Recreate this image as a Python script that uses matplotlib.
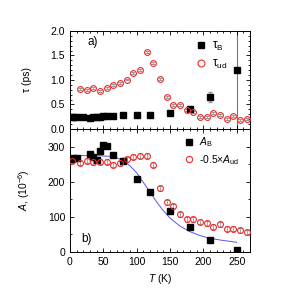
import matplotlib
matplotlib.use("Agg")
import matplotlib.pyplot as plt
from matplotlib.ticker import MultipleLocator
from matplotlib.lines import Line2D
import numpy as np

plt.rcParams['font.family'] = ['Liberation Sans', 'DejaVu Sans']
plt.rcParams['mathtext.fontset'] = 'custom'
plt.rcParams['mathtext.rm'] = 'Liberation Sans'
plt.rcParams['mathtext.it'] = 'Liberation Sans:italic'

# panel a
tB_T = [2.5, 5, 10, 20, 30, 35, 40, 45, 50, 55, 65, 80, 100, 120, 150, 180, 210, 250]
tB_v = [0.25, 0.25, 0.25, 0.25, 0.23, 0.24, 0.24, 0.25, 0.26, 0.26, 0.27, 0.28, 0.29, 0.29, 0.32, 0.40, 0.66, 1.21]
tB_err = [0.02]*16 + [0.1, 0.02]
tud_T = [15, 25, 35, 45, 55, 65, 75, 85, 95, 105, 115, 125, 135, 145, 155, 165, 175, 185, 195, 205, 215, 225, 235, 245, 255, 265]
tud_v = [0.81, 0.80, 0.84, 0.78, 0.83, 0.90, 0.94, 1.01, 1.14, 1.21, 1.58, 1.34, 1.03, 0.66, 0.49, 0.48, 0.38, 0.35, 0.25, 0.24, 0.32, 0.28, 0.20, 0.26, 0.19, 0.21]

# panel b
AB_T = [2.5, 5, 10, 30, 35, 40, 45, 50, 55, 65, 80, 100, 120, 150, 180, 210, 250]
AB_v = [264, 266, 268, 278, 270, 262, 286, 305, 302, 276, 260, 208, 171, 117, 70, 33, 5]
Aud_T = [2.5, 15, 25, 35, 45, 55, 65, 75, 85, 95, 105, 115, 125, 135, 145, 155, 165, 175, 185, 195, 205, 215, 225, 235, 245, 255, 265]
Aud_v = [260, 254, 260, 255, 257, 257, 248, 252, 264, 271, 274, 274, 248, 181, 141, 129, 107, 93, 92, 86, 81, 71, 78, 65, 65, 61, 56]
fit_T = [0, 20, 40, 60, 70, 80, 90, 100, 110, 120, 130, 140, 150, 165, 180, 195, 210, 230, 250]
fit_v = [274, 274, 274, 272, 268, 260, 245, 225, 198, 170, 142, 117, 96, 73, 57, 46, 38, 32, 27]

fig = plt.figure(figsize=(2.91, 2.96), dpi=100)
ax1 = fig.add_axes([0.2405, 0.5642, 0.6185, 0.3311])
ax2 = fig.add_axes([0.2405, 0.1497, 0.6185, 0.4145])

fs = 7.5
red = '#ee2b2b'
gray = '#999999'

ax1.axvline(250, color='#777777', lw=0.8, zorder=1)
ax1.errorbar(tB_T, tB_v, yerr=tB_err, fmt='s', ms=3.8, color='black', ecolor=gray,
             elinewidth=0.6, capsize=1.2, zorder=3)
ax1.errorbar(tud_T, tud_v, yerr=0.02, fmt='o', ms=4.2, mfc='none', mec=red, mew=0.8,
             ecolor=gray, elinewidth=0.6, capsize=1.2, zorder=3)
ax1.set_xlim(0, 270)
ax1.set_ylim(0, 2.0)
ax1.set_ylabel('τ (ps)', fontsize=fs)
ax1.text(0.10, 0.86, 'a)', transform=ax1.transAxes, fontsize=8.5)
h1 = [Line2D([], [], ls='none', marker='s', ms=4.5, color='black'),
      Line2D([], [], ls='none', marker='o', ms=5, mfc='none', mec=red, mew=0.8)]
ax1.legend(h1, [r'τ$_{\rm B}$', r'τ$_{\rm ud}$'], loc='upper left',
           bbox_to_anchor=(0.67, 0.96), frameon=False, fontsize=8.5,
           handletextpad=0.4, labelspacing=0.45, handlelength=1.0, borderaxespad=0.0)
ax1.tick_params(labelbottom=False)

ax2.plot(fit_T, fit_v, color='#5555ee', lw=0.7, zorder=2)
ax2.errorbar(AB_T, AB_v, yerr=6, fmt='s', ms=3.8, color='black', ecolor=gray,
             elinewidth=0.6, capsize=1.2, zorder=3)
ax2.errorbar(Aud_T, Aud_v, yerr=7, fmt='o', ms=4.2, mfc='none', mec=red, mew=0.8,
             ecolor=gray, elinewidth=0.6, capsize=1.2, zorder=3)
ax2.set_xlim(0, 270)
ax2.set_ylim(0, 350)
ax2.set_xlabel(r'$T$ (K)', fontsize=fs)
ax2.set_ylabel(r'$A$, (10$^{-6}$)', fontsize=fs)
ax2.text(0.06, 0.08, 'b)', transform=ax2.transAxes, fontsize=8.5)
h2 = [Line2D([], [], ls='none', marker='s', ms=4.2, color='black'),
      Line2D([], [], ls='none', marker='o', ms=4.5, mfc='none', mec=red, mew=0.8)]
ax2.legend(h2, [r'$A_{\rm B}$', r'-0.5$\times$$A_{\rm ud}$'], loc='upper left',
           bbox_to_anchor=(0.61, 0.98), frameon=False, fontsize=7.5,
           handletextpad=0.4, labelspacing=0.35, handlelength=1.0, borderaxespad=0.0)

for ax in (ax1, ax2):
    ax.xaxis.set_major_locator(MultipleLocator(50))
    ax.xaxis.set_minor_locator(MultipleLocator(10))
    ax.tick_params(which='both', direction='in', top=True, right=True, labelsize=fs, width=0.6)
    ax.tick_params(which='major', length=3)
    ax.tick_params(which='minor', length=1.5)
    for s in ax.spines.values():
        s.set_linewidth(0.7)
ax1.yaxis.set_major_locator(MultipleLocator(0.5))
ax1.yaxis.set_minor_locator(MultipleLocator(0.1))
ax2.yaxis.set_major_locator(MultipleLocator(100))
ax2.yaxis.set_minor_locator(MultipleLocator(50))
ax1.set_yticks([0, 0.5, 1.0, 1.5, 2.0])
ax1.set_yticklabels(['0.0', '0.5', '1.0', '1.5', '2.0'])
ax1.yaxis.set_label_coords(-0.21, 0.5)
ax2.yaxis.set_label_coords(-0.21, 0.5)

fig.savefig('out.png', dpi=100)
